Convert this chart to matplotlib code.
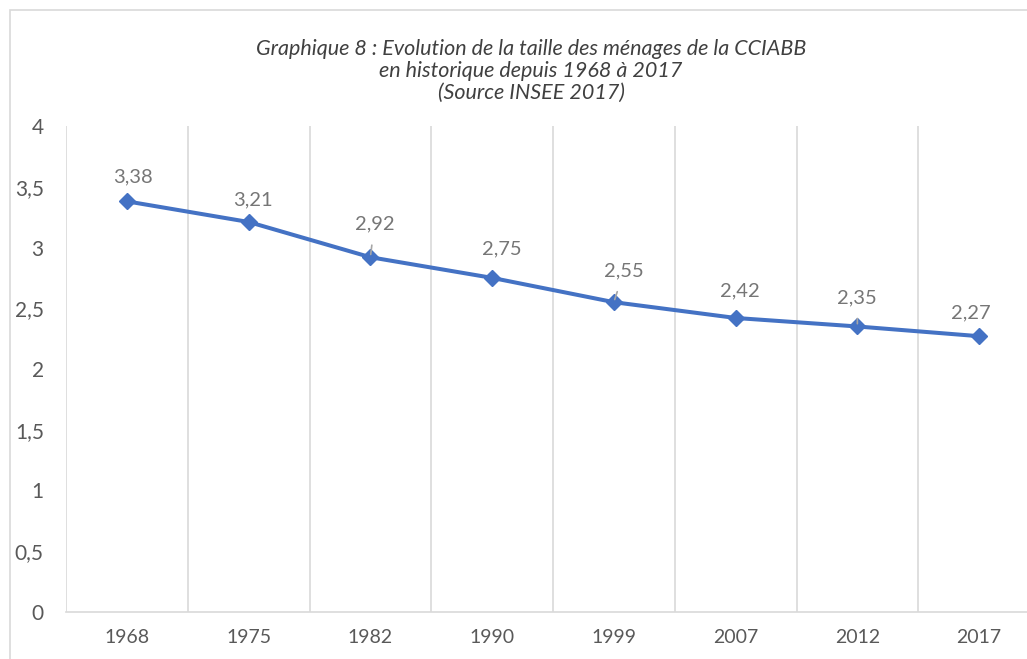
import matplotlib
matplotlib.use('Agg')
import matplotlib.pyplot as plt
from matplotlib.patches import Rectangle

plt.rcParams['font.family'] = ['Lato', 'DejaVu Sans']

# --- data ---
years = ['1968', '1975', '1982', '1990', '1999', '2007', '2012', '2017']
taille = [3.38, 3.21, 2.92, 2.75, 2.55, 2.42, 2.35, 2.27]
labels = ['3,38', '3,21', '2,92', '2,75', '2,55', '2,42', '2,35', '2,27']
y_ticks = [0, 0.5, 1, 1.5, 2, 2.5, 3, 3.5, 4]
y_tick_labels = ['0', '0,5', '1', '1,5', '2', '2,5', '3', '3,5', '4']

# label offsets in pixels (dx, dy) and whether a leader line is drawn
label_offsets = [(6, 24), (4, 22), (4, 33), (10, 29), (10, 31), (4, 27), (0, 29), (-8, 23)]
leaders = [False, False, True, False, True, False, True, False]

blue = '#4472C4'
grid_grey = '#D9D9D9'
text_grey = '#595959'
label_grey = '#767676'

fig = plt.figure(figsize=(10.27, 6.59), dpi=100)
W, H = 1027, 659
ax = fig.add_axes([66 / W, 1 - 612 / H, 974 / W, 486 / H])

x = list(range(len(years)))
ax.plot(x, taille, color=blue, linewidth=2.9, marker='D', markersize=8,
        markerfacecolor=blue, markeredgecolor=blue, zorder=3, clip_on=False)

# data labels
px = 0.72
for i, (xv, yv) in enumerate(zip(x, taille)):
    dx, dy = label_offsets[i]
    if leaders[i]:
        ax.annotate(labels[i], (xv, yv), xytext=(dx * px, dy * px), textcoords='offset points',
                    ha='center', va='center', fontsize=14.5, color=label_grey,
                    arrowprops=dict(arrowstyle='-', color='#A6A6A6', lw=1.2, shrinkA=7, shrinkB=2))
    else:
        ax.annotate(labels[i], (xv, yv), xytext=(dx * px, dy * px), textcoords='offset points',
                    ha='center', va='center', fontsize=14.5, color=label_grey)

ax.set_xlim(-0.5, len(years) - 0.5)
ax.set_ylim(0, 4)
ax.set_xticks(x)
ax.set_xticklabels(years)
ax.set_yticks(y_ticks)
ax.set_yticklabels(y_tick_labels)
ax.set_xticks([i - 0.5 for i in range(len(years) + 1)], minor=True)
ax.grid(which='minor', axis='x', color=grid_grey, linewidth=1.2)
ax.tick_params(axis='both', which='both', length=0)
ax.tick_params(axis='y', labelsize=15, labelcolor=text_grey, pad=16)
ax.tick_params(axis='x', labelsize=14, labelcolor=text_grey, pad=12)
for side in ['top', 'right', 'left']:
    ax.spines[side].set_visible(False)
ax.spines['bottom'].set_color(grid_grey)
ax.spines['bottom'].set_linewidth(1.2)

fig.text(531 / W, 1 - 71 / H,
         'Graphique 8 : Evolution de la taille des ménages de la CCIABB\n'
         'en historique depuis 1968 à 2017\n(Source INSEE 2017)',
         ha='center', va='center', fontsize=15.5, style='italic', color='#404040',
         linespacing=1.12)

# chart border
fig.patches.append(Rectangle((10 / W, -0.1), 1.2, 1.1 - 10 / H, transform=fig.transFigure,
                             fill=False, edgecolor=grid_grey, linewidth=1.2))

fig.savefig('out.png', dpi=100)
